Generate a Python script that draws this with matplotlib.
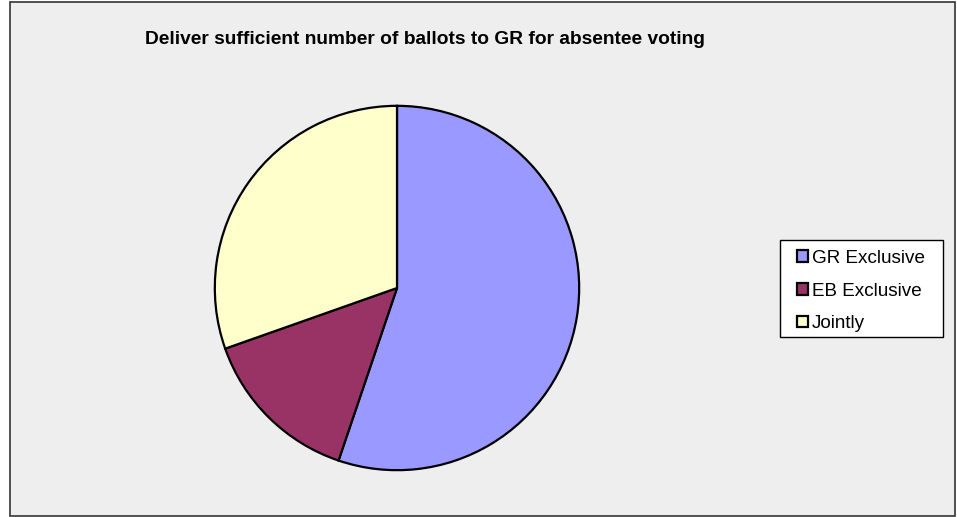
import matplotlib.pyplot as plt
from matplotlib.patches import Rectangle

# data (shares)
labels = ["GR Exclusive", "EB Exclusive", "Jointly"]
shares = [55.2, 14.4, 30.4]
colors = ["#9999FF", "#993366", "#FFFFCC"]
title = "Deliver sufficient number of ballots to GR for absentee voting"

plt.rcParams["font.family"] = ["Liberation Sans", "DejaVu Sans"]

W, H = 957, 517
fig = plt.figure(figsize=(W / 100, H / 100), dpi=100)
fig.patch.set_facecolor("white")

# chart area frame (drawn behind the pie)
fig.patches.append(Rectangle((10 / W, 1 / H), 945 / W, 514 / H, transform=fig.transFigure,
                             facecolor="#EEEEEE", edgecolor="#333333", linewidth=1.2,
                             zorder=-5))

cx, cy, r = 397, 288, 184
ax = fig.add_axes([(cx - r) / W, (H - cy - r) / H, 2 * r / W, 2 * r / H])
ax.set_zorder(2)
wedges, _ = ax.pie(shares, colors=colors, startangle=90, counterclock=False, radius=1,
                   wedgeprops=dict(edgecolor="black", linewidth=1.6))
ax.set_xlim(-1.01, 1.01)
ax.set_ylim(-1.01, 1.01)
ax.set_aspect("equal")
ax.axis("off")

fig.text(425 / W, 1 - 40 / H, title, ha="center", va="center",
         fontsize=13.8, fontweight="bold")

# legend box (white, square corners)
fig.patches.append(Rectangle((780 / W, 1 - 337 / H), 163 / W, 97 / H,
                             transform=fig.transFigure, facecolor="white",
                             edgecolor="black", linewidth=1.0, zorder=1))

leg = fig.legend(wedges, labels, loc="center", bbox_to_anchor=(861 / W, 1 - 291 / H),
                 frameon=False, fontsize=13.6,
                 handlelength=0.55, handleheight=0.55, handletextpad=0.2,
                 labelspacing=0.84, borderpad=0.45, borderaxespad=0)
leg.set_zorder(3)

fig.savefig("out.png", dpi=100)
